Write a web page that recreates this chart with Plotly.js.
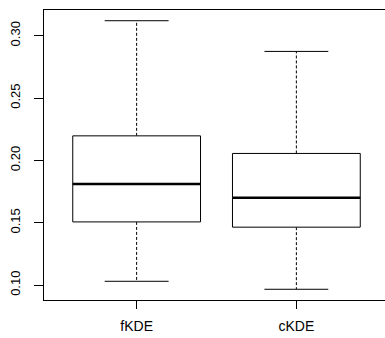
<!DOCTYPE html>
<html>
<head>
<meta charset="utf-8">
<script src="https://cdn.plot.ly/plotly-3.0.1.min.js"></script>
<style>
html, body { margin: 0; padding: 0; overflow: hidden; background: #fff; }
#chart { width: 389px; height: 338px; }
</style>
</head>
<body>
<div id="chart"></div>
<script>
// Data
var categories = ['fKDE', 'cKDE'];
var lowerWhisker = [0.1031, 0.0967];
var q1 = [0.1507, 0.1465];
var median = [0.1812, 0.1700];
var q3 = [0.2197, 0.2056];
var upperWhisker = [0.3120, 0.2874];
var yTicks = [0.10, 0.15, 0.20, 0.25, 0.30];

var boxHalf = 0.4;   // box half-width in category units
var capHalf = 0.2;   // whisker staple half-width

var traces = [];
categories.forEach(function (name, i) {
  var c = i + 1;
  traces.push({
    type: 'scatter', mode: 'lines', hoverinfo: 'skip', showlegend: false,
    x: [c, c, null, c, c],
    y: [q3[i], upperWhisker[i], null, q1[i], lowerWhisker[i]],
    line: { color: '#000', width: 1, dash: '3px,2px' }
  });
  traces.push({
    type: 'scatter', mode: 'lines', hoverinfo: 'skip', showlegend: false,
    x: [c - capHalf, c + capHalf, null, c - capHalf, c + capHalf],
    y: [upperWhisker[i], upperWhisker[i], null, lowerWhisker[i], lowerWhisker[i]],
    line: { color: '#000', width: 1 }
  });
  traces.push({
    type: 'scatter', mode: 'lines', hoverinfo: 'skip', showlegend: false,
    x: [c - boxHalf, c + boxHalf, c + boxHalf, c - boxHalf, c - boxHalf],
    y: [q1[i], q1[i], q3[i], q3[i], q1[i]],
    fill: 'toself', fillcolor: '#fff',
    line: { color: '#000', width: 1 }
  });
  traces.push({
    type: 'scatter', mode: 'lines', hoverinfo: 'skip', showlegend: false,
    x: [c - boxHalf, c + boxHalf],
    y: [median[i], median[i]],
    line: { color: '#000', width: 2.5 }
  });
});

var layout = {
  width: 389, height: 338,
  margin: { l: 44, r: 0, t: 10, b: 38 },
  paper_bgcolor: '#fff', plot_bgcolor: '#fff',
  showlegend: false,
  font: { family: 'Liberation Sans, Arial, sans-serif', color: '#000' },
  xaxis: {
    range: [0.42, 2.58],
    tickmode: 'array', tickvals: [1, 2], ticktext: categories,
    ticks: 'outside', ticklen: 8, tickwidth: 1, tickcolor: '#000',
    ticklabelstandoff: 5,
    showline: true, mirror: true, linecolor: '#000', linewidth: 1,
    showgrid: false, zeroline: false,
    tickfont: { size: 14, color: '#000' }
  },
  yaxis: {
    range: [0.0881, 0.3206],
    tickmode: 'array', tickvals: yTicks,
    tickformat: '.2f', tickangle: -90,
    ticks: 'outside', ticklen: 9, tickwidth: 1, tickcolor: '#000',
    ticklabelstandoff: 9,
    showline: true, mirror: true, linecolor: '#000', linewidth: 1,
    showgrid: false, zeroline: false,
    tickfont: { size: 13, color: '#000' }
  }
};

Plotly.newPlot('chart', traces, layout, { staticPlot: true, displayModeBar: false });
</script>
</body>
</html>
